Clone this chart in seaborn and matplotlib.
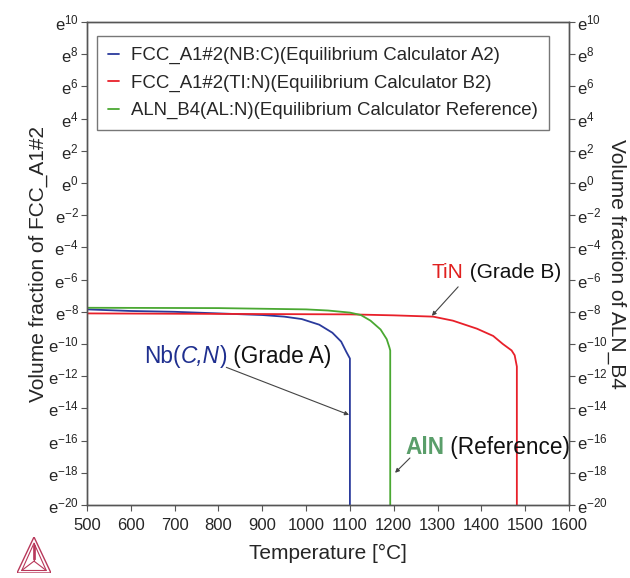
import numpy as np
import pandas as pd
import matplotlib
matplotlib.use('Agg')
import matplotlib.pyplot as plt
import seaborn as sns
from matplotlib.ticker import FixedLocator, FuncFormatter, NullLocator

# ln(volume fraction)
temp_nb = [500, 600, 700, 800, 850, 900, 950, 990, 1030, 1060, 1080, 1092, 1100, 1100]
ln_nb = [-7.85, -7.95, -8.0, -8.1, -8.15, -8.2, -8.3, -8.45, -8.8, -9.3, -9.85, -10.5, -10.9, -20.5]

temp_ti = [500, 800, 1100, 1200, 1290, 1335, 1390, 1427, 1449, 1469, 1476, 1481, 1481]
ln_ti = [-8.1, -8.13, -8.16, -8.22, -8.3, -8.55, -9.05, -9.5, -10.0, -10.4, -10.7, -11.4, -20.5]

temp_al = [500, 800, 1000, 1050, 1100, 1125, 1147, 1170, 1184, 1190, 1192, 1192]
ln_al = [-7.75, -7.77, -7.85, -7.92, -8.05, -8.2, -8.55, -9.1, -9.7, -10.2, -10.4, -20.5]

labels = ['FCC_A1#2(NB:C)(Equilibrium Calculator A2)',
          'FCC_A1#2(TI:N)(Equilibrium Calculator B2)',
          'ALN_B4(AL:N)(Equilibrium Calculator Reference)']
colors = ['#2a3a9c', '#e8202a', '#4aa832']

x_ticks = list(range(500, 1700, 100))
y_exps = list(range(-20, 12, 2))

frames = []
for lbl, t, v in zip(labels, [temp_nb, temp_ti, temp_al], [ln_nb, ln_ti, ln_al]):
    frames.append(pd.DataFrame({'T': t, 'vf': np.exp(v), 'phase': lbl}))
df = pd.concat(frames, ignore_index=True)

sns.set_style('ticks')
plt.rcParams['font.family'] = ['Liberation Sans', 'DejaVu Sans']
plt.rcParams['mathtext.fontset'] = 'custom'
plt.rcParams['mathtext.rm'] = 'Liberation Sans'

fig = plt.figure(figsize=(6.3, 5.78), dpi=100)
ax = fig.add_axes([87/630, 1 - 505/578, 482/630, 483/578])

sns.lineplot(data=df, x='T', y='vf', hue='phase', palette=colors, sort=False,
             estimator=None, lw=1.3, ax=ax)

ax.set_yscale('log', base=np.e)
ax.set_xlim(500, 1600)
ax.set_ylim(np.exp(-20), np.exp(10))

def e_fmt(v, pos):
    return r'$\mathregular{e^{%d}}$' % int(round(np.log(v)))

ax2 = ax.twinx()
ax2.set_yscale('log', base=np.e)
ax2.set_ylim(ax.get_ylim())
for a in (ax, ax2):
    a.yaxis.set_major_locator(FixedLocator(np.exp(y_exps)))
    a.yaxis.set_minor_locator(NullLocator())
    a.yaxis.set_major_formatter(FuncFormatter(e_fmt))
    a.tick_params(axis='y', labelsize=12, length=4, width=0.8, color='#555555', pad=2)
    for s in a.spines.values():
        s.set_color('#555555')
        s.set_linewidth(1.0)
ax.set_xticks(x_ticks)
ax.tick_params(axis='x', labelsize=12, length=4, width=0.8, color='#555555', pad=5)

ax.set_xlabel('Temperature [°C]', fontsize=15, labelpad=8)
ax.set_ylabel('Volume fraction of FCC_A1#2', fontsize=15, labelpad=0)
ax2.set_ylabel('Volume fraction of ALN_B4', fontsize=15, rotation=270, labelpad=13)

leg = ax.legend(loc='upper left', bbox_to_anchor=(0.021, 0.971), borderaxespad=0,
                fontsize=13.4, frameon=True, fancybox=False, handlelength=0.55,
                handletextpad=0.65, labelspacing=0.55, borderpad=0.6)
leg.get_frame().set_edgecolor('#555555')
leg.get_frame().set_linewidth(1.0)
for h in leg.get_lines():
    h.set_linewidth(1.3)

arrow = dict(arrowstyle='-|>', color='#444444', lw=0.8, mutation_scale=6, shrinkA=0, shrinkB=0)
fs = 15

# TiN (Grade B)
t1 = ax.text(1287, np.exp(-5.55), 'TiN', color='#e0201f', fontsize=fs, va='center', ha='left')
ax.annotate(' (Grade B)', xy=(1, 0), xycoords=t1, va='bottom', ha='left', fontsize=fs, color='#111111')
ax.annotate('', xy=(1287, np.exp(-8.25)), xytext=(1347, np.exp(-6.45)), arrowprops=arrow)

# Nb(C,N) (Grade A)
fs2 = 16.3
nb_col = '#1f2f8f'
n1 = ax.text(630, np.exp(-10.8), 'Nb(', color=nb_col, fontsize=fs2, va='center', ha='left')
n2 = ax.annotate('C,N', xy=(1, 0), xycoords=n1, va='bottom', ha='left', fontsize=fs2,
                 color=nb_col, style='italic')
n3 = ax.annotate(')', xy=(1, 0), xycoords=n2, va='bottom', ha='left', fontsize=fs2, color=nb_col)
ax.annotate(' (Grade A)', xy=(1, 0), xycoords=n3, va='bottom', ha='left', fontsize=fs2, color='#111111')
ax.annotate('', xy=(1098, np.exp(-14.4)), xytext=(818, np.exp(-11.45)), arrowprops=arrow)

# AlN (Reference)
a1 = ax.text(1226, np.exp(-16.4), 'AlN', color='#5a9e6a', fontsize=fs2, weight='bold',
             va='center', ha='left')
ax.annotate(' (Reference)', xy=(1, 0), xycoords=a1, va='bottom', ha='left', fontsize=fs2, color='#111111')
ax.annotate('', xy=(1203, np.exp(-18.0)), xytext=(1237, np.exp(-17.08)), arrowprops=arrow)

# logo
lax = fig.add_axes([17/630, 5/578, 34/630, 36/578])
lax.set_xlim(0, 1)
lax.set_ylim(0, 1)
lax.axis('off')
lc = '#b8385a'
outer = np.array([[0, 0], [1, 0], [0.5, 1], [0, 0]])
inner = np.array([[0.14, 0.07], [0.86, 0.07], [0.5, 0.83], [0.14, 0.07]])
lax.plot(outer[:, 0], outer[:, 1], color=lc, lw=1.0)
lax.plot(inner[:, 0], inner[:, 1], color=lc, lw=0.8)
c = (0.5, 0.33)
for vx, vy in [(0.14, 0.07), (0.86, 0.07), (0.5, 0.83)]:
    lax.plot([c[0], vx], [c[1], vy], color=lc, lw=0.8)
lax.plot([0.46, 0.46, 0.54, 0.54], [0.78, 0.38, 0.38, 0.78], color=lc, lw=0.6)

fig.savefig('out.png', dpi=100)
